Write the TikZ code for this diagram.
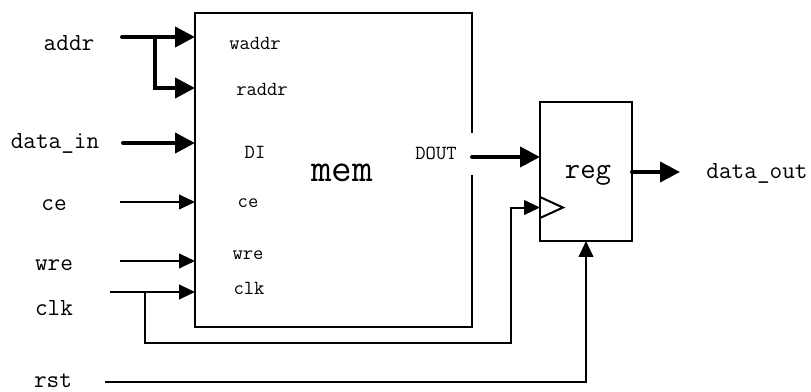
\documentclass[tikz,border=0pt]{standalone}
\usetikzlibrary{arrows.meta}
\begin{document}
\begin{tikzpicture}[x=0.75pt,y=-0.75pt,
  blk/.style={inner sep=0pt, outer sep=0pt, line width=1.5pt},
  edge/.style={line width=1.5pt},
  bus/.style={line width=3pt, line cap=round, -{Triangle[length=15pt,width=15pt]}},
  sig/.style={line width=1.5pt, -{Triangle[length=12pt,width=11pt]}},
  pin/.style={inner sep=0pt, font=\ttfamily\fontsize{18.4}{18.4}\selectfont},
  port/.style={inner sep=0pt, font=\ttfamily\fontsize{15}{15}\selectfont}]
\useasboundingbox (0,0) rectangle (811,392);

\node [blk, minimum width=207.75pt, minimum height=235.5pt] (mem) at (333.5,170) {};
\node [blk, draw, minimum width=69pt, minimum height=104.25pt] (reg) at (586,171.5) {};
\draw [edge] ([yshift=-3.75pt]mem.east) -- (mem.south east) -- (mem.south west)
  -- (mem.north west) -- (mem.north east) -- ([yshift=27.75pt]mem.east);
\draw [edge] ([yshift=33pt]reg.south west) -- ([xshift=17.25pt,yshift=25.1pt]reg.south west)
  -- ([yshift=17.25pt]reg.south west);

\node [inner sep=0pt, font=\ttfamily\fontsize{30}{30}\selectfont] (memname) at (342,173) {mem};
\node [inner sep=0pt, font=\ttfamily\fontsize{22.4}{22.4}\selectfont] (regname) at (588,175) {reg};

\node [port] (waddr) at (255,43) {waddr};
\node [port] (raddr) at (262,89) {raddr};
\node [port] (di) at (255,152) {DI};
\node [port] (cein) at (248,203) {ce};
\node [port] (wrein) at (248,255) {wre};
\node [port] (clkin) at (249,288) {clk};
\node [port] (dout) at (436,153) {DOUT};

\node [pin] (addr) at (69,43) {addr};
\node [pin] (datain) at (55,143) {data\_in};
\node [pin] (ce) at (54,205) {ce};
\node [pin] (wre) at (54,265) {wre};
\node [pin] (clk) at (54,308) {clk};
\node [pin] (rst) at (53,381) {rst};
\node [pin] (dataout) at (757,173) {data\_out};

\coordinate (addr-in) at (122,37);
\coordinate (addr-br) at (155,37);
\coordinate (raddr-at) at (195,88);
\coordinate (datain-in) at (123,143);
\coordinate (ce-in) at (120,202);
\coordinate (wre-in) at (120,261);
\coordinate (clk-in) at (110,292);
\coordinate (clk-br) at (145,292);
\coordinate (clk-turn) at (511,343);
\coordinate (rst-in) at (105,382);
\coordinate (dout-at) at (472,157);
\coordinate (dataout-end) at (680,172);

\draw [bus] (addr-in) -- (addr-in -| mem.west);
\draw [bus] (addr-br) |- (raddr-at);
\draw [bus] (datain-in) -- (datain-in -| mem.west);
\draw [sig] (ce-in) -- (ce-in -| mem.west);
\draw [sig] (wre-in) -- (wre-in -| mem.west);
\draw [sig] (clk-in) -- (clk-in -| mem.west);
\draw [sig] (clk-br) |- (clk-turn) |- ([yshift=25.1pt]reg.south west);
\draw [sig] (rst-in) -| (reg.south);
\draw [bus] (dout-at) -- (dout-at -| reg.west);
\draw [bus] (reg.east |- dataout-end) -- (dataout-end);
\end{tikzpicture}
\end{document}
